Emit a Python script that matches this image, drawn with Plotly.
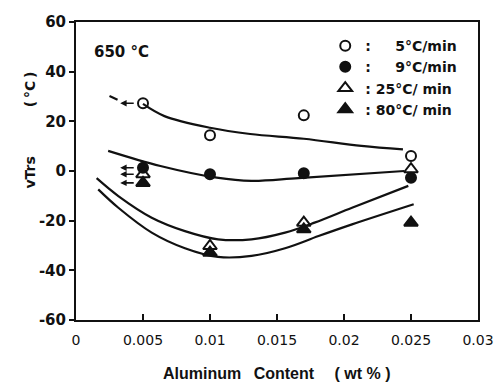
import plotly.graph_objects as go

# ---- data ----
AL = [0.005, 0.01, 0.017, 0.025]           # Aluminum content (wt %)
V5 = [27.3, 14.4, 22.4, 6.0]               # 5 °C/min
V9 = [1.3, -1.3, -0.9, -2.7]               # 9 °C/min
V25 = [-1.3, -30.2, -20.8, 0.7]            # 25 °C/min
V80 = [-4.8, -32.9, -23.5, -20.8]          # 80 °C/min

# hand-drawn trend curves
C5_X = [0.005, 0.0066, 0.01, 0.013, 0.017, 0.0213, 0.0244]
C5_Y = [27.0, 22.1, 17.4, 14.9, 13.0, 10.1, 8.7]
C5_EXT_X = [0.0025, 0.0031]
C5_EXT_Y = [30.2, 28.7]
C9_X = [0.0024, 0.0063, 0.0105, 0.0131, 0.0166, 0.0245]
C9_Y = [8.1, 2.0, -2.7, -4.0, -2.9, 0.0]
C25_X = [0.00154, 0.00316, 0.00565, 0.00813, 0.0106, 0.0131, 0.0156, 0.0178, 0.0206, 0.0248]
C25_Y = [-2.9, -10.1, -18.8, -24.2, -27.5, -27.5, -24.8, -20.8, -14.8, -6.0]
C80_X = [0.00166, 0.00316, 0.00565, 0.00813, 0.0106, 0.0131, 0.0156, 0.0181, 0.0206, 0.0252]
C80_Y = [-7.4, -14.8, -24.8, -31.1, -34.6, -34.2, -31.1, -26.2, -21.5, -13.4]

X_TICKS = [0, 0.005, 0.01, 0.015, 0.02, 0.025, 0.03]
X_LABELS = ["0", "0.005", "0.01", "0.015", "0.02", "0.025", "0.03"]
Y_TICKS = [-60, -40, -20, 0, 20, 40, 60]
Y_LABELS = ["-60", "-40", "-20", "0", "20", "40", "60"]

NAMES = [":\u2007\u2007 5°C/min", ":\u2007\u2007 9°C/min", ": 25°C/ min", ": 80°C/ min"]

FONT = "Liberation Sans"
WIDE = "DejaVu Sans"
BLACK = "#111111"

fig = go.Figure()

line_style = dict(color=BLACK, width=2.2, shape="spline", smoothing=1.0)
for cx, cy in [(C5_X, C5_Y), (C5_EXT_X, C5_EXT_Y), (C9_X, C9_Y), (C25_X, C25_Y), (C80_X, C80_Y)]:
    fig.add_trace(go.Scatter(x=cx, y=cy, mode="lines", line=line_style,
                             showlegend=False, hoverinfo="skip"))

markers = [
    (V5, "circle-open", 10, NAMES[0]),
    (V9, "circle", 10, NAMES[1]),
    (V25, "triangle-up-open", 12, NAMES[2]),
    (V80, "triangle-up", 12, NAMES[3]),
]
for vals, sym, size, name in markers:
    fig.add_trace(go.Scatter(
        x=AL, y=vals, mode="markers", name=name,
        marker=dict(symbol=sym, size=size, color=BLACK,
                    line=dict(color=BLACK, width=2)),
    ))

# small left-pointing arrows at the 0.005 points
for vals in (V5, V9, V25, V80):
    fig.add_annotation(x=AL[0] - 0.0017, y=vals[0], xref="x", yref="y",
                       ax=15, ay=0, axref="pixel", ayref="pixel",
                       showarrow=True, arrowhead=2, arrowsize=0.8,
                       arrowwidth=1.6, arrowcolor=BLACK, text="")

fig.add_annotation(x=0.039, y=0.90, xref="paper", yref="paper",
                   text="650 °C", showarrow=False, xanchor="left", yanchor="middle",
                   font=dict(family=WIDE, size=15, color=BLACK, weight="bold"))

fig.add_annotation(x=-0.139, y=0.636, xref="paper", yref="paper",
                   text="vTrs\u2003\u2003\u2003\u2002(\u2009°C\u2009)", showarrow=False, textangle=-90,
                   font=dict(family=WIDE, size=14, color=BLACK, weight="bold"))

fig.add_annotation(x=0.5, y=-0.178, xref="paper", yref="paper",
                   text="Aluminum\u2002 Content \u2003( wt % )", showarrow=False,
                   xanchor="center", yanchor="middle",
                   font=dict(family=FONT, size=16, color=BLACK, weight="bold"))

fig.update_layout(
    width=497, height=383,
    margin=dict(l=76, r=19, t=22, b=63),
    paper_bgcolor="white", plot_bgcolor="white",
    font=dict(family=FONT, color=BLACK),
    legend=dict(x=0.62, y=0.973, xanchor="left", yanchor="top",
                bgcolor="rgba(0,0,0,0)",
                font=dict(family=WIDE, size=14, color=BLACK, weight="bold"),
                itemwidth=30, tracegroupgap=0),
    xaxis=dict(range=[0, 0.03], tickvals=X_TICKS, ticktext=X_LABELS,
               automargin=False, ticklabeloverflow="allow",
               showline=True, linecolor=BLACK, linewidth=2, mirror=True,
               ticks="inside", ticklen=6, tickwidth=2, tickcolor=BLACK,
               showgrid=False, zeroline=False, ticklabelstandoff=6,
               tickfont=dict(family=WIDE, size=14, color=BLACK)),
    yaxis=dict(range=[-60, 60], tickvals=Y_TICKS, ticktext=Y_LABELS,
               automargin=False,
               showline=True, linecolor=BLACK, linewidth=2, mirror=True,
               ticks="outside", ticklen=5, tickwidth=2, tickcolor=BLACK,
               showgrid=False, zeroline=False,
               tickfont=dict(family=WIDE, size=15, color=BLACK, weight="bold")),
)

# remove the browser's default 8 px page margin so the figure fills the window
fig.write_html("out.html",
               config={"displayModeBar": False},
               post_script="document.body.style.margin='0px';"
                           "document.body.style.overflow='hidden';")
